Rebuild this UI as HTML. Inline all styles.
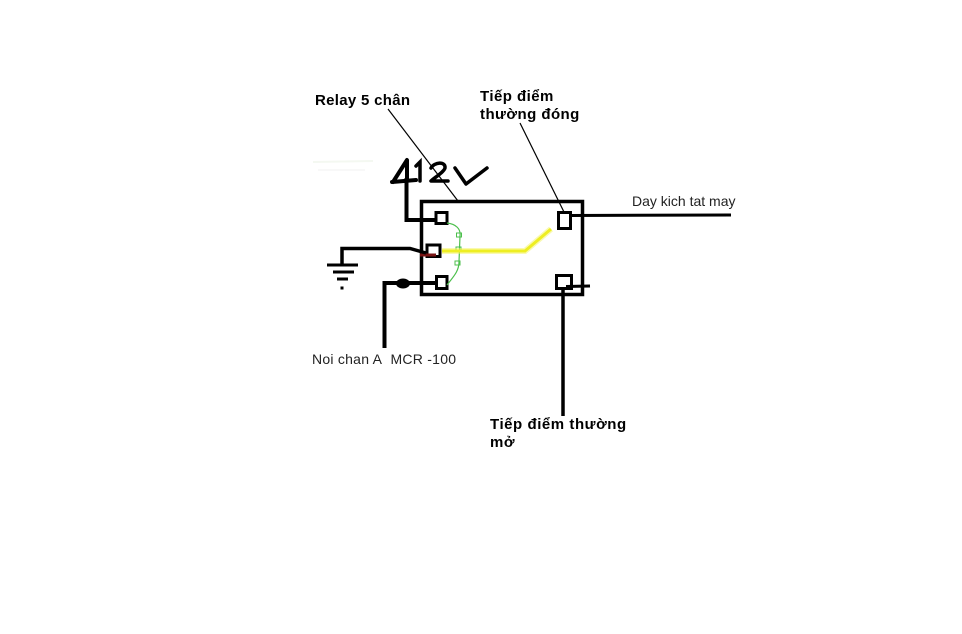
<!DOCTYPE html>
<html>
<head>
<meta charset="utf-8">
<style>
html,body{margin:0;padding:0;background:#fff;}
svg{display:block;}
.b{font-family:"Liberation Sans",Arial,sans-serif;font-weight:bold;font-size:15px;fill:#000;}
.r{font-family:"Liberation Sans",Arial,sans-serif;font-size:14px;fill:#222;}
</style>
</head>
<body>
<svg width="962" height="634" viewBox="0 0 962 634" xmlns="http://www.w3.org/2000/svg">
<rect width="962" height="634" fill="#fff"/>
<!-- faint marks -->
<line x1="313" y1="162" x2="373" y2="161" stroke="#f4f8f1" stroke-width="2"/>
<line x1="318" y1="170" x2="365" y2="170" stroke="#f8f8f8" stroke-width="2"/>

<!-- Labels -->
<text class="b" x="315" y="105" letter-spacing="0.3">Relay 5 chân</text>
<text class="b" x="480" y="101" letter-spacing="0.45">Tiếp điểm</text>
<text class="b" x="480" y="119" letter-spacing="0.45">thường đóng</text>
<text class="r" x="632" y="206" font-size="14">Day kich tat may</text>
<text class="r" x="312" y="364" font-size="14.3" letter-spacing="0.25" xml:space="preserve">Noi chan A&#160; MCR -100</text>
<text class="b" x="490" y="429" letter-spacing="0.55">Tiếp điểm thường</text>
<text class="b" x="490" y="447" letter-spacing="0.55">mở</text>

<!-- Leader lines -->
<line x1="388" y1="109" x2="458" y2="201" stroke="#000" stroke-width="1.2"/>
<line x1="520" y1="123" x2="564" y2="212" stroke="#000" stroke-width="1.2"/>

<!-- Relay box -->
<rect x="421.5" y="201.5" width="161" height="93" fill="none" stroke="#000" stroke-width="3.5"/>

<!-- pins -->
<rect x="436" y="212.5" width="11" height="11" fill="none" stroke="#000" stroke-width="3"/>
<rect x="427" y="245" width="13" height="11.5" fill="none" stroke="#000" stroke-width="3"/>
<rect x="436.5" y="276.5" width="10.5" height="12" fill="none" stroke="#000" stroke-width="3"/>
<rect x="558.5" y="212.5" width="12" height="16" fill="none" stroke="#000" stroke-width="3"/>
<rect x="556.5" y="275.5" width="15" height="13" fill="none" stroke="#000" stroke-width="3"/>

<!-- coil -->
<path d="M447,223 C456,224 461,229 460,236 L459,262 C459,272 452,278 447,285" fill="none" stroke="#4cbf4c" stroke-width="1.2"/>
<rect x="456.5" y="233" width="5" height="4" fill="none" stroke="#4cbf4c" stroke-width="1"/>
<rect x="456" y="247" width="5" height="3.5" fill="none" stroke="#4cbf4c" stroke-width="1"/>
<rect x="455" y="261" width="5" height="4" fill="none" stroke="#4cbf4c" stroke-width="1"/>

<!-- yellow switch -->
<polyline points="442,251 525,251 551,229" fill="none" stroke="#f4f460" stroke-width="6" opacity="0.5"/>
<polyline points="442,251 525,251 551,229" fill="none" stroke="#eeee22" stroke-width="3"/>

<!-- red segment -->
<line x1="420" y1="255" x2="436" y2="255" stroke="#7a1414" stroke-width="3"/>

<!-- 12V symbol -->
<path d="M393,182 L407,160 L407,181 M392,182 L416,180" fill="none" stroke="#000" stroke-width="4" stroke-linejoin="round" stroke-linecap="round"/>
<path d="M416,166 L420,162 L420,181" fill="none" stroke="#000" stroke-width="3.5" stroke-linecap="round"/>
<path d="M431,168 C434,162 446,161 445,168 C444,172 434,178 431,181 L448,181" fill="none" stroke="#000" stroke-width="3.5" stroke-linecap="round" stroke-linejoin="round"/>
<path d="M455,168 L466,184 L487,168" fill="none" stroke="#000" stroke-width="3.5" stroke-linecap="round" stroke-linejoin="round"/>

<!-- 12V wire -->
<polyline points="406.5,178 406.5,220 437,220" fill="none" stroke="#000" stroke-width="4"/>

<!-- ground wire -->
<path d="M342,264 L342,248.5 L410,248.5 L426,253" fill="none" stroke="#000" stroke-width="3.5"/>
<line x1="327" y1="265" x2="358" y2="265" stroke="#000" stroke-width="3"/>
<line x1="333" y1="272" x2="354" y2="272" stroke="#000" stroke-width="3"/>
<line x1="337" y1="279" x2="348" y2="279" stroke="#000" stroke-width="3"/>
<rect x="340.5" y="286.5" width="3" height="3" fill="#000"/>

<!-- bottom-left wire -->
<polyline points="384.5,348 384.5,283 437,283" fill="none" stroke="#000" stroke-width="4"/>
<ellipse cx="403" cy="283.5" rx="7" ry="5" fill="#000"/>

<!-- right wires -->
<line x1="571" y1="215.5" x2="731" y2="215" stroke="#000" stroke-width="3"/>
<line x1="566" y1="286.5" x2="590" y2="286" stroke="#000" stroke-width="3"/>
<line x1="563" y1="288" x2="563" y2="416" stroke="#000" stroke-width="3.5"/>
</svg>
</body>
</html>
